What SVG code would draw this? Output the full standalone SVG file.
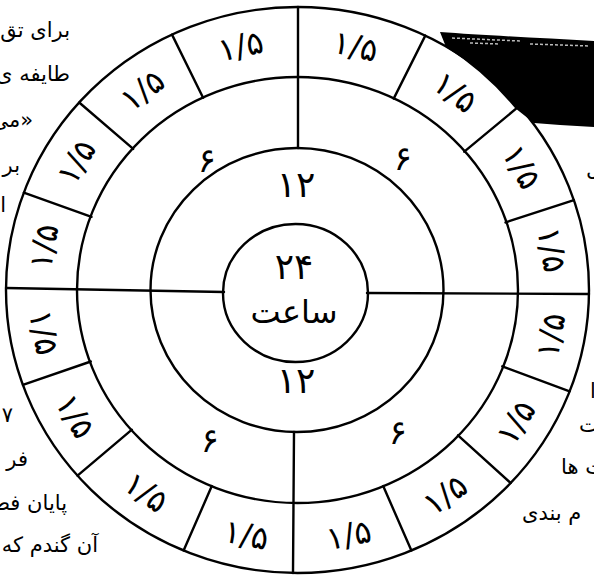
<svg xmlns="http://www.w3.org/2000/svg" width="594" height="575" viewBox="0 0 594 575">
<style>
.ln{stroke:#000;stroke-width:2.4;fill:none;stroke-linecap:round}
.lbl{font-family:"DejaVu Sans",sans-serif;font-size:32px;text-anchor:middle;dominant-baseline:central;fill:#000}
.mid{font-family:"DejaVu Sans",sans-serif;font-size:34px;text-anchor:middle;dominant-baseline:central;fill:#000}
.big{font-family:"DejaVu Sans",sans-serif;font-size:36px;text-anchor:middle;dominant-baseline:central;fill:#000}
.side{font-family:"DejaVu Sans",sans-serif;font-size:21px;fill:#000;direction:rtl}
.l{text-anchor:start}
.r{text-anchor:end}
</style>
<rect width="594" height="575" fill="#fff"/>
<!-- scan smudge top right -->
<path d="M440,32 C480,35 540,38 594,41 L594,127 L560,125 L534,123 L515,108 Q485,72 446,47 Z" fill="#000"/>
<path d="M452,38 L520,41 M470,43 L500,44 M530,44 L590,46" stroke="#bbb" stroke-width="1.5" stroke-dasharray="3 2"/>
<!-- side texts -->
<g id="side-left">
<text class="side l" x="70" y="37">برای تق</text>
<text class="side l" x="70" y="81">طایفه ی</text>
<text class="side l" x="33" y="127">«می</text>
<text class="side l" x="20" y="172">بر</text>
<text class="side l" x="6" y="212">ا</text>
<text class="side l" x="13" y="422">۷</text>
<text class="side l" x="28" y="466">فر</text>
<text class="side l" x="67" y="510">پایان فص</text>
<text class="side l" x="98" y="552">آن گندم که</text>
</g>
<g id="side-right">
<text class="side r" x="586" y="176">ل</text>
<text class="side r" x="590" y="398">ا</text>
<text class="side r" x="579" y="432">ت</text>
<text class="side r" x="561" y="474">ت ها</text>
<text class="side r" x="522" y="520">م بندی</text>
</g>
<!-- rings -->
<g id="rings">
<ellipse class="ln" cx="297.5" cy="290" rx="291.5" ry="283"/>
<ellipse class="ln" cx="297.5" cy="290" rx="220.5" ry="213"/>
<ellipse class="ln" cx="297" cy="290" rx="146.5" ry="142"/>
</g>
<g id="connectors">
<path class="ln" d="M298,7 L298,148"/>
<path class="ln" d="M294,432 L293,573"/>
<path class="ln" d="M6,288 L224,292"/>
<path class="ln" d="M367,293 L589,294"/>
<path class="ln" d="M393.7,98.6 L425.3,35.6"/>
<path class="ln" d="M464.3,151.7 L519.1,106.2"/>
<path class="ln" d="M505.5,222.4 L573.9,200.2"/>
<path class="ln" d="M502.3,366.3 L569.6,391.4"/>
<path class="ln" d="M458,435.3 L510.7,483"/>
<path class="ln" d="M383.2,486.1 L411.4,550.5"/>
<path class="ln" d="M211.8,486.1 L183.6,550.5"/>
<path class="ln" d="M131.9,429.7 L77.5,475.7"/>
<path class="ln" d="M90.8,361.5 L22.9,384.9"/>
<path class="ln" d="M91.5,216.8 L23.8,192.7"/>
<path class="ln" d="M133.2,148.9 L79.2,102.5"/>
<path class="ln" d="M203.1,97.7 L172,34.6"/>
</g>
<!-- center node -->
<g id="center">
<ellipse class="ln" cx="295.5" cy="293" rx="72.5" ry="69" fill="#fff"/>
<text class="big" x="294" y="266">۲۴</text>
<text class="big" x="294" y="312" style="font-size:32px">ساعت</text>
</g>
<g id="twelve-top"><text class="big" x="296" y="184">۱۲</text></g>
<g id="twelve-bottom"><text class="big" x="296" y="380">۱۲</text></g>
<g id="six-tl"><text class="mid" x="207" y="160">۶</text></g>
<g id="six-tr"><text class="mid" x="403" y="158">۶</text></g>
<g id="six-bl"><text class="mid" x="210" y="440">۶</text></g>
<g id="six-br"><text class="mid" x="398" y="432">۶</text></g>
<g id="outer-labels">
<g id="s1"><text class="lbl" transform="translate(355.4,46.4) rotate(13)">۱/۵</text></g>
<g id="s2"><text class="lbl" transform="translate(455.1,92.3) rotate(37.75)">۱/۵</text></g>
<g id="s3"><text class="lbl" transform="translate(521.6,166.9) rotate(60.5)">۱/۵</text></g>
<g id="s4"><text class="lbl" transform="translate(551.7,249.8) rotate(80.75)">۱/۵</text></g>
<g id="s5"><text class="lbl" transform="translate(550.7,335.6) rotate(-79.5)">۱/۵</text></g>
<g id="s6"><text class="lbl" transform="translate(515.9,422.5) rotate(-58)">۱/۵</text></g>
<g id="s7"><text class="lbl" transform="translate(445.2,494.8) rotate(-35)">۱/۵</text></g>
<g id="s8"><text class="lbl" transform="translate(348.8,535) rotate(-11.5)">۱/۵</text></g>
<g id="s9"><text class="lbl" transform="translate(246.2,535) rotate(11.5)">۱/۵</text></g>
<g id="s10"><text class="lbl" transform="translate(146.1,492.3) rotate(36)">۱/۵</text></g>
<g id="s11"><text class="lbl" transform="translate(75.2,416.1) rotate(59.7)">۱/۵</text></g>
<g id="s12"><text class="lbl" transform="translate(43.8,332.6) rotate(80.2)">۱/۵</text></g>
<g id="s13"><text class="lbl" transform="translate(43.9,246.6) rotate(-80)">۱/۵</text></g>
<g id="s14"><text class="lbl" transform="translate(76.3,162) rotate(-59.2)">۱/۵</text></g>
<g id="s15"><text class="lbl" transform="translate(142.5,90.3) rotate(-37)">۱/۵</text></g>
<g id="s16"><text class="lbl" transform="translate(240.7,46.1) rotate(-12.75)">۱/۵</text></g>
</g>
</svg>
